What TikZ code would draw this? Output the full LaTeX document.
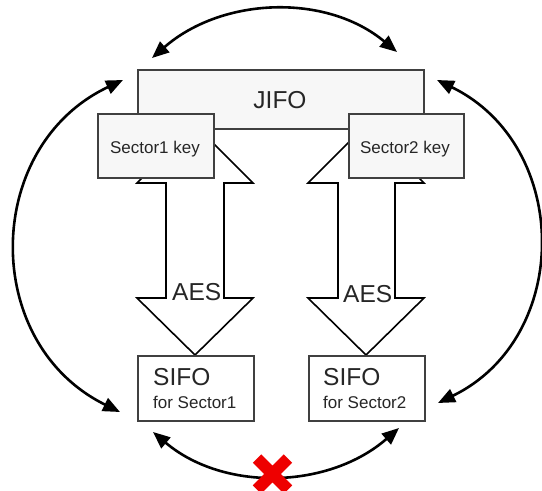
\documentclass[tikz,border=0pt]{standalone}
\usepackage{fontspec}
\setmainfont{Liberation Sans}
\usetikzlibrary{arrows.meta,calc}
\definecolor{boxline}{HTML}{404040}
\definecolor{keyfill}{HTML}{F7F7F7}
\definecolor{crossred}{HTML}{EE0000}
\definecolor{textgray}{HTML}{262626}

\begin{document}
\begin{tikzpicture}[x=1pt,y=-1pt,
  fifo/.style={rectangle, draw=boxline, line width=1.7pt, inner sep=0pt, anchor=north west},
  shaded/.style={fifo, fill=keyfill},
  plain/.style={fifo, fill=white},
  blockarrow/.style={draw=black, fill=white, line width=1.6pt, line join=miter},
  link/.style={{Triangle[length=17pt,width=14pt]}-{Triangle[length=17pt,width=14pt]}, line width=2.6pt},
  big/.style={inner sep=0pt, text=textgray, font=\fontsize{24.5}{28}\selectfont},
  small/.style={inner sep=0pt, text=textgray, font=\fontsize{17}{20}\selectfont}
]
\useasboundingbox (0,0) rectangle (542,491);

% shared queue
\node[shaded, minimum width=286pt, minimum height=59pt] (jifo) at (137,69) {};
\node[big, anchor=base] (jifotext) at (280,108) {JIFO};

% AES block arrows between key and sector queue
\draw[blockarrow] (195,125) -- (253,183) -- (224,183) -- (224,298) -- (253,298)
  -- (195,355) -- (137,298) -- (166,298) -- (166,183) -- (137,183) -- cycle;
\draw[blockarrow] (366,125) -- (424,183) -- (395,183) -- (395,298) -- (424,298)
  -- (366,355) -- (308,298) -- (338,298) -- (338,183) -- (308,183) -- cycle;
\node[big, anchor=base west] (aes1) at (172,300) {AES};
\node[big, anchor=base west] (aes2) at (343,302) {AES};

% sector keys
\node[shaded, minimum width=116pt, minimum height=64pt] (key1) at (97,113) {};
\node[shaded, minimum width=115pt, minimum height=64pt] (key2) at (348,113) {};
\node[small, anchor=base] (key1text) at (155,153) {Sector1 key};
\node[small, anchor=base] (key2text) at (405,153) {Sector2 key};

% sector queues
\node[plain, minimum width=116pt, minimum height=65pt] (sifo1) at (137,355) {};
\node[plain, minimum width=116pt, minimum height=65pt] (sifo2) at (308,355) {};
\node[big, anchor=base west] (sifo1a) at (153,385) {SIFO};
\node[small, anchor=base west] (sifo1b) at (153,408) {for Sector1};
\node[big, anchor=base west] (sifo2a) at (323,385) {SIFO};
\node[small, anchor=base west] (sifo2b) at (323,408) {for Sector2};

% arc end points around the boxes
\coordinate (jifoL) at (152,58);
\coordinate (jifoR) at (397,52);
\coordinate (jifoW) at (123,80);
\coordinate (jifoE) at (437,80);
\coordinate (sifo1W) at (120,412);
\coordinate (sifo2E) at (438,403);
\coordinate (sifo1S) at (153,432);
\coordinate (sifo2S) at (399,428);

\draw[link] (jifoL) .. controls (222,-3) and (326,-7) .. (jifoR);
\draw[link] (jifoW) .. controls (-17,146) and (-20,343) .. (sifo1W);
\draw[link] (jifoE) .. controls (571.5,145.5) and (572.5,337.5) .. (sifo2E);
\draw[link] (sifo1S) .. controls (224,492) and (329,489) .. (sifo2S);

% no direct path between the two sector queues
\coordinate (xc) at (272.5,474);
\draw[crossred, line width=12pt] ($(xc)+(-15.5,-15.5)$) -- ($(xc)+(15.5,15.5)$)
  ($(xc)+(15.5,-15.5)$) -- ($(xc)+(-15.5,15.5)$);
\end{tikzpicture}
\end{document}
